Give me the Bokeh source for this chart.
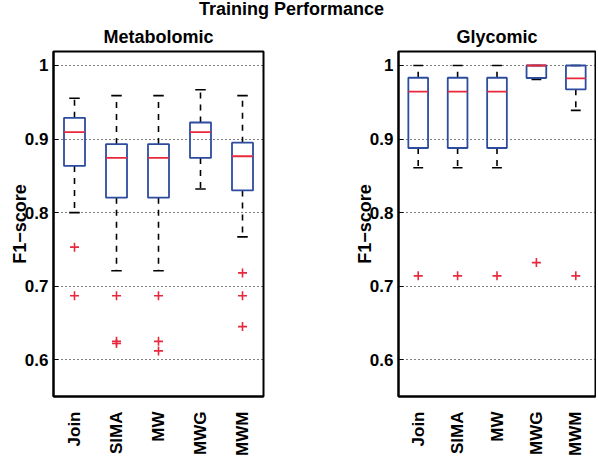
import math
from bokeh.plotting import figure
from bokeh.models import (ColumnDataSource, FactorRange, Range1d, FixedTicker, Label)
from bokeh.transform import dodge
from bokeh.layouts import row, column
from bokeh.embed import file_html
from bokeh.resources import INLINE

# ---------------- data ----------------
methods = ["Join", "SIMA", "MW", "MWG", "MWM"]

met_lower = [0.800, 0.721, 0.721, 0.832, 0.767]
met_q1 = [0.8635, 0.8203, 0.8203, 0.8743, 0.8302]
met_median = [0.9095, 0.8743, 0.8743, 0.9095, 0.8766]
met_q3 = [0.9288, 0.8932, 0.8932, 0.9225, 0.8950]
met_upper = [0.9554, 0.9590, 0.9590, 0.9670, 0.9590]
met_out_method = ["Join", "Join", "SIMA", "SIMA", "SIMA", "MW", "MW", "MW", "MWM", "MWM", "MWM"]
met_out_value = [0.753, 0.687, 0.687, 0.625, 0.622, 0.687, 0.625, 0.612, 0.718, 0.687, 0.645]

gly_lower = [0.861, 0.861, 0.861, 0.981, 0.939]
gly_q1 = [0.8878, 0.8878, 0.8878, 0.9830, 0.9676]
gly_median = [0.9644, 0.9644, 0.9644, 1.0, 0.9824]
gly_q3 = [0.9833, 0.9833, 0.9833, 1.0, 1.0]
gly_upper = [1.0, 1.0, 1.0, 1.0, 1.0]
gly_out_method = ["Join", "SIMA", "MW", "MWG", "MWM"]
gly_out_value = [0.714, 0.714, 0.714, 0.732, 0.714]

y_ticks = [0.6, 0.7, 0.8, 0.9, 1.0]
y_tick_labels = ["0.6", "0.7", "0.8", "0.9", "1"]

main_title = "Training Performance"
panel_titles = ["Metabolomic", "Glycomic"]
y_label = "F1\u2212score"

# ---------------- style ----------------
FONT = "Liberation Sans"
BLUE = "#2d4b9f"
RED = "#e8283c"
Y_MIN, Y_MAX = 0.55, 1.019
LEFT = 53


def make_panel(title, lower, q1, med, q3, upper, out_m, out_v, frame_w, border_right):
    p = figure(x_range=FactorRange(*methods), y_range=Range1d(Y_MIN, Y_MAX),
               frame_width=frame_w, frame_height=345,
               min_border_left=LEFT, min_border_right=border_right,
               min_border_top=32, min_border_bottom=10,
               toolbar_location=None, output_backend="svg", title=title)
    p.background_fill_color = "white"
    p.border_fill_color = "white"
    p.title.align = "center"
    p.title.text_font = FONT
    p.title.text_font_size = "18px"
    p.title.text_font_style = "bold"
    p.title.text_color = "black"
    p.title.standoff = 9
    p.outline_line_color = "black"
    p.outline_line_width = 2

    src = ColumnDataSource(dict(x=methods, lower=lower, q1=q1, med=med, q3=q3, upper=upper))
    # whiskers
    p.segment(x0="x", y0="q3", x1="x", y1="upper", source=src, line_color="black",
              line_width=1.6, line_dash="6 6")
    p.segment(x0="x", y0="q1", x1="x", y1="lower", source=src, line_color="black",
              line_width=1.6, line_dash="6 6")
    # caps
    p.segment(x0=dodge("x", -0.125, range=p.x_range), y0="upper",
              x1=dodge("x", 0.125, range=p.x_range), y1="upper", source=src,
              line_color="black", line_width=1.6)
    p.segment(x0=dodge("x", -0.125, range=p.x_range), y0="lower",
              x1=dodge("x", 0.125, range=p.x_range), y1="lower", source=src,
              line_color="black", line_width=1.6)
    # boxes
    p.vbar(x="x", bottom="q1", top="q3", width=0.5, source=src, fill_alpha=0,
           line_color=BLUE, line_width=1.8)
    # medians
    p.segment(x0=dodge("x", -0.25, range=p.x_range), y0="med",
              x1=dodge("x", 0.25, range=p.x_range), y1="med", source=src,
              line_color=RED, line_width=1.8)
    # outliers
    osrc = ColumnDataSource(dict(x=out_m, y=out_v))
    p.scatter(x="x", y="y", source=osrc, marker="cross", size=9, line_color=RED,
              line_width=1.6)

    p.xgrid.grid_line_color = None
    p.ygrid.grid_line_color = "black"
    p.ygrid.grid_line_dash = "1 3"
    p.ygrid.grid_line_width = 1.2

    p.yaxis.ticker = FixedTicker(ticks=y_ticks)
    p.yaxis.major_label_overrides = {t: l for t, l in zip(y_ticks, y_tick_labels)}
    p.yaxis.minor_tick_line_color = None
    p.yaxis.major_tick_in = 5
    p.yaxis.major_tick_out = 0
    p.yaxis.major_label_standoff = 5
    p.yaxis.axis_label = y_label
    p.yaxis.axis_label_standoff = -8
    p.yaxis.axis_label_text_font = FONT
    p.yaxis.axis_label_text_font_size = "18px"
    p.yaxis.axis_label_text_font_style = "bold"
    p.yaxis.axis_label_text_color = "black"

    p.xaxis.major_tick_line_color = None
    p.xaxis.major_label_orientation = math.pi / 2
    p.xaxis.major_label_standoff = 9

    for ax in (p.xaxis, p.yaxis):
        ax.axis_line_color = "black"
        ax.axis_line_width = 2
        ax.major_label_text_font = FONT
        ax.major_label_text_font_size = "17px"
        ax.major_label_text_font_style = "bold"
        ax.major_label_text_color = "black"
    return p


p1 = make_panel(panel_titles[0], met_lower, met_q1, met_median, met_q3, met_upper,
                met_out_method, met_out_value, 210, 82)
p2 = make_panel(panel_titles[1], gly_lower, gly_q1, gly_median, gly_q3, gly_upper,
                gly_out_method, gly_out_value, 197, 1)

p0 = figure(width=596, height=19, x_range=Range1d(0, 596), y_range=Range1d(0, 19),
            x_axis_type=None, y_axis_type=None, toolbar_location=None,
            output_backend="svg", min_border=0)
p0.outline_line_color = None
p0.grid.grid_line_color = None
p0.add_layout(Label(x=291, y=10.5, text=main_title, text_align="center",
                    text_baseline="middle", text_font=FONT, text_font_size="18px",
                    text_font_style="bold", text_color="black"))

layout = column(p0, row(p1, p2))
open("out.html", "w").write(file_html(layout, INLINE))
